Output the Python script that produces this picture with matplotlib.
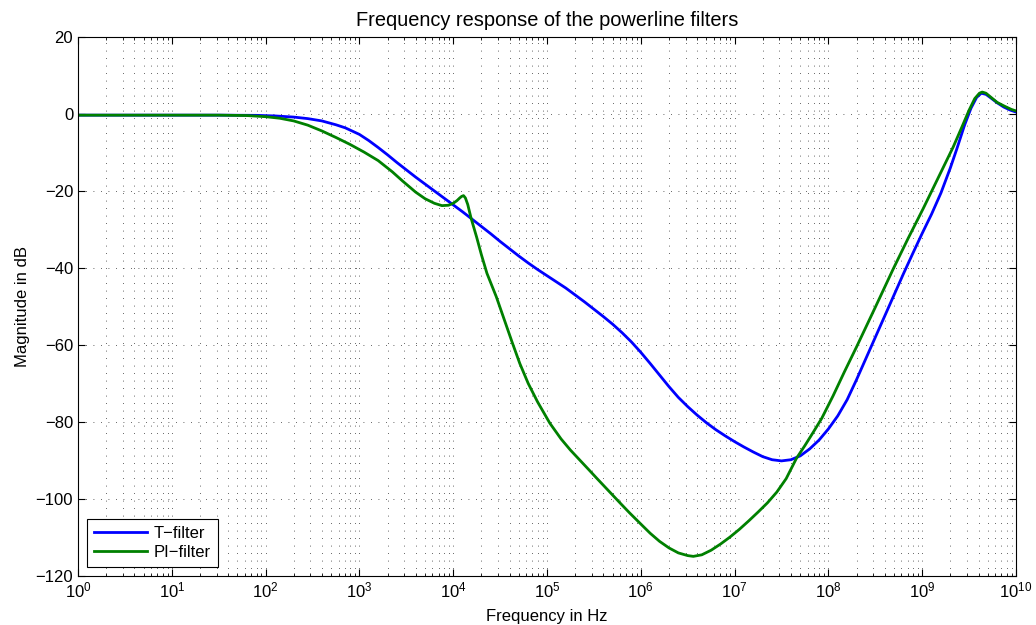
import numpy as np
import matplotlib.pyplot as plt
from matplotlib.ticker import LogLocator, NullFormatter, MultipleLocator

plt.rcParams['font.family'] = ['Liberation Sans', 'DejaVu Sans']
plt.rcParams['font.size'] = 12

# log10 of frequency (Hz) and magnitude (dB)
t_logf = [0, 1.5, 1.9, 2.1, 2.3, 2.45, 2.6, 2.75, 2.85, 3.0, 3.1, 3.2, 3.3,
          3.4, 3.5, 3.6, 3.7, 3.8, 3.9, 4.0, 4.1, 4.2, 4.3, 4.4, 4.5, 4.6,
          4.7, 4.8, 4.9, 5.0, 5.1, 5.2, 5.3, 5.4, 5.5, 5.6, 5.7, 5.8, 5.9,
          6.0, 6.1, 6.2, 6.3, 6.4, 6.5, 6.6, 6.7, 6.8, 6.9, 7.0, 7.1, 7.2,
          7.3, 7.4, 7.5, 7.6, 7.7, 7.8, 7.9, 8.0, 8.1, 8.2, 8.3, 8.4, 8.5,
          8.6, 8.7, 8.8, 8.9, 9.0, 9.1, 9.2, 9.3, 9.37, 9.45, 9.52, 9.58,
          9.63, 9.68, 9.73, 9.8, 9.87, 9.94, 10.0]
t_db = [-0.3, -0.3, -0.35, -0.5, -0.8, -1.2, -1.8, -2.8, -3.6, -5.3, -6.9,
        -8.7, -10.6, -12.6, -14.5, -16.4, -18.2, -20.0, -21.8, -23.6, -25.4,
        -27.3, -29.2, -31.1, -33.1, -35.0, -36.9, -38.7, -40.4, -42.0, -43.6,
        -45.2, -47.0, -48.8, -50.7, -52.6, -54.6, -56.8, -59.2, -61.9, -64.8,
        -67.8, -70.8, -73.6, -76.0, -78.2, -80.2, -82.0, -83.6, -85.1, -86.5,
        -87.8, -89.0, -89.8, -90.1, -89.8, -88.8, -87.0, -84.7, -81.8, -78.4,
        -74.2, -69.0, -63.5, -58.0, -52.5, -47.0, -41.5, -36.2, -31.0, -26.0,
        -20.5, -14.0, -9.0, -3.0, 1.5, 4.3, 5.4, 5.1, 4.2, 2.9, 1.8, 1.0, 0.5]

pi_logf = [0, 1.5, 1.8, 2.0, 2.15, 2.3, 2.45, 2.6, 2.75, 2.9, 3.05, 3.2, 3.35,
           3.46, 3.6, 3.7, 3.8, 3.88, 3.95, 4.0, 4.04, 4.07, 4.09, 4.11, 4.13,
           4.155, 4.19, 4.25, 4.3, 4.36, 4.46, 4.55, 4.63, 4.71, 4.8, 4.9,
           5.03, 5.15, 5.25, 5.35, 5.45, 5.53, 5.65, 5.77, 5.88, 6.0, 6.1, 6.2,
           6.3, 6.4, 6.5, 6.56, 6.65, 6.75, 6.85, 6.95, 7.05, 7.15, 7.25, 7.35,
           7.45, 7.55, 7.66, 7.75, 7.84, 7.93, 8.05, 8.17, 8.3, 8.5, 8.69,
           8.85, 9.01, 9.17, 9.33, 9.43, 9.5, 9.56, 9.61, 9.64, 9.68, 9.73,
           9.8, 9.88, 9.95, 10.0]
pi_db = [-0.3, -0.3, -0.4, -0.7, -1.1, -1.8, -2.9, -4.4, -6.1, -7.9, -9.9,
         -12.1, -15.0, -17.4, -20.3, -22.0, -23.2, -23.8, -23.7, -23.2, -22.5,
         -21.8, -21.4, -21.2, -21.8, -23.5, -27.0, -32.0, -36.5, -41.4, -47.5,
         -53.8, -59.4, -64.8, -70.0, -74.8, -80.3, -84.4, -87.3, -89.9, -92.5,
         -94.6, -97.7, -100.8, -103.6, -106.5, -108.9, -111.0, -112.7, -114.0,
         -114.7, -114.9, -114.5, -113.3, -111.7, -109.9, -107.9, -105.7, -103.4,
         -101.0, -98.2, -94.7, -89.4, -86.1, -82.6, -79.0, -73.2, -67.0, -60.5,
         -50.2, -40.3, -32.3, -24.6, -16.6, -8.6, -3.0, 1.0, 4.0, 5.4, 5.7,
         5.4, 4.4, 3.0, 2.0, 1.2, 0.8]

labels = ['T\u2212filter', 'PI\u2212filter']
colors = ['#0000ff', '#008000']

fig = plt.figure(figsize=(10.36, 6.25), dpi=100)
ax = fig.add_axes([78 / 1036, 1 - 576 / 625, 938 / 1036, 539 / 625])

ax.semilogx(10 ** np.array(t_logf), t_db, color=colors[0], lw=2, label=labels[0])
ax.semilogx(10 ** np.array(pi_logf), pi_db, color=colors[1], lw=2, label=labels[1])

ax.set_xlim(1, 1e10)
ax.set_ylim(-120, 20)
ax.xaxis.set_major_locator(LogLocator(base=10, numticks=20))
ax.xaxis.set_minor_locator(LogLocator(base=10, subs=np.arange(2, 10), numticks=200))
ax.xaxis.set_minor_formatter(NullFormatter())
ax.yaxis.set_major_locator(MultipleLocator(20))

dots = (0, (1, 8))
ax.grid(True, which='major', axis='both', linestyle=dots, color='0.2', lw=0.6)
ax.grid(True, which='minor', axis='x', linestyle=dots, color='0.2', lw=0.6)

ax.tick_params(which='both', direction='in', top=True, right=True, colors='k')
ax.tick_params(which='major', length=5, width=0.8)
ax.tick_params(which='minor', length=2.5, width=0.6)
for s in ax.spines.values():
    s.set_linewidth(0.8)

ax.set_title('Frequency response of the powerline filters', pad=8)
ax.set_xlabel('Frequency in Hz', labelpad=6)
ax.set_ylabel('Magnitude in dB', labelpad=4)

leg = ax.legend(loc='lower left', fancybox=False, edgecolor='k', framealpha=1,
                borderaxespad=0.55, handlelength=3.2, handletextpad=0.4,
                borderpad=0.4, labelspacing=0.25)
leg.get_frame().set_linewidth(0.8)

fig.savefig('out.png', dpi=100)
